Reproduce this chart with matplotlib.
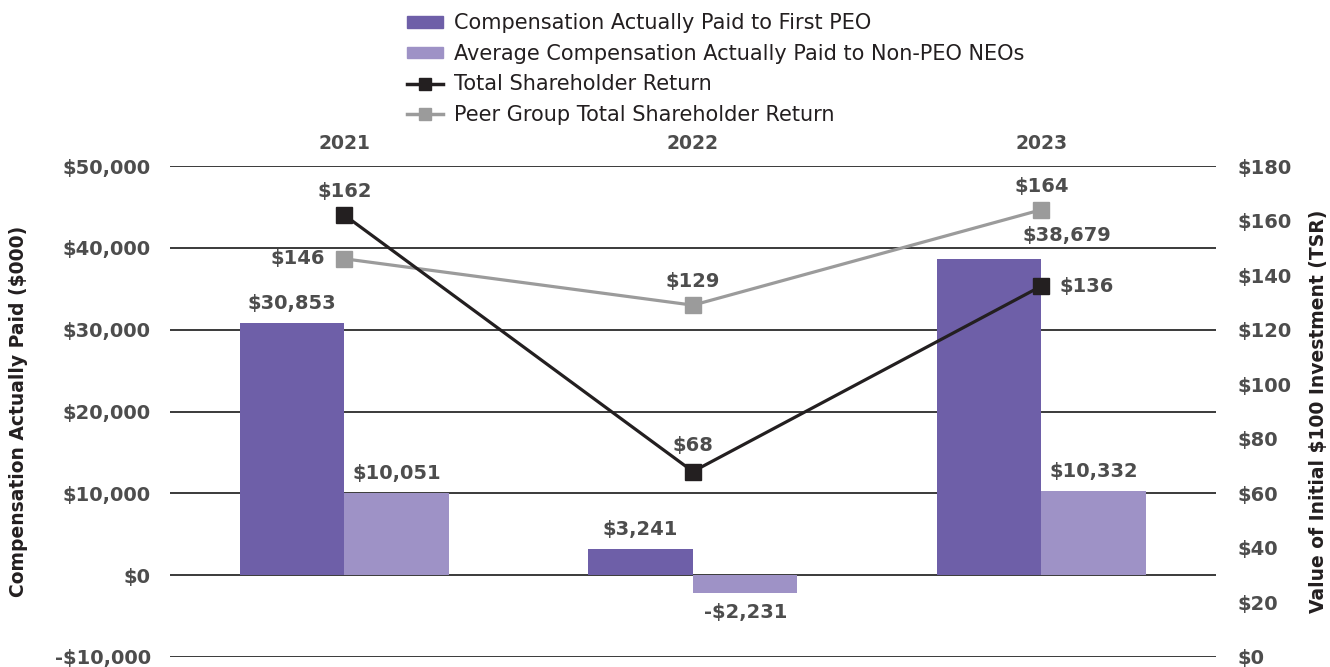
import numpy as np
import matplotlib.pyplot as plt
from matplotlib.lines import Line2D
from matplotlib.patches import Patch

plt.rcParams['font.family'] = ['DejaVu Sans']

years = ['2021', '2022', '2023']
peo_cap = [30853, 3241, 38679]
neo_cap = [10051, -2231, 10332]
tsr = [162, 68, 136]
peer_tsr = [146, 129, 164]

c_peo = '#6E5FA8'
c_neo = '#9E92C6'
c_tsr = '#231F20'
c_peer = '#9B9B9B'
c_txt = '#4D4D4D'

fig = plt.figure(figsize=(13.3, 6.67), dpi=100)
ax = fig.add_axes([0.128, 0.015, 0.786, 0.736])
ax2 = ax.twinx()

x = np.arange(len(years))
w = 0.3
ax.bar(x - w / 2, peo_cap, w, color=c_peo, zorder=3)
ax.bar(x + w / 2, neo_cap, w, color=c_neo, zorder=3)

ax.set_xlim(-0.5, 2.5)
ax.set_ylim(-10000, 50000)
ticks = list(range(-10000, 50001, 10000))
ax.set_yticks(ticks)
ax.set_yticklabels([('-$' if v < 0 else '$') + f'{abs(v):,}' for v in ticks])
ax.grid(axis='y', color='#3A3A3A', linewidth=1.4, zorder=0)
ax.set_xticks([])
for s in ax.spines.values():
    s.set_visible(False)
for s in ax2.spines.values():
    s.set_visible(False)
ax.tick_params(axis='y', length=0, pad=14, labelsize=14, labelcolor=c_txt)
for t in ax.get_yticklabels():
    t.set_fontweight('bold')
ax.set_ylabel('Compensation Actually Paid ($000)', fontsize=13.5, fontweight='bold',
              color=c_tsr, labelpad=19)

# year labels on top
for i, y in enumerate(years):
    ax.text(i, 1.047, y, transform=ax.get_xaxis_transform(), ha='center', va='center',
            fontsize=13.5, fontweight='bold', color=c_txt)

kw = dict(fontsize=14, fontweight='bold', color=c_txt, textcoords='offset points',
          va='center')

# bar labels (the 2023 PEO label sits to the right, under the peer marker)
peo_offsets = [(0, 14), (0, 14), (56, 17)]
for i in range(len(years)):
    ax.annotate(f'${peo_cap[i]:,}', (i - w / 2, peo_cap[i]), xytext=peo_offsets[i],
                ha='center', **kw)
    v = neo_cap[i]
    if v >= 0:
        ax.annotate(f'${v:,}', (i + w / 2, v), xytext=(0, 14), ha='center', **kw)
    else:
        ax.annotate(f'-${abs(v):,}', (i + w / 2, v), xytext=(0, -14), ha='center', **kw)

# TSR lines
ax2.plot(x, peer_tsr, color=c_peer, lw=2.3, marker='s', ms=12, zorder=4)
ax2.plot(x, tsr, color=c_tsr, lw=2.3, marker='s', ms=12, zorder=5)
ax2.set_ylim(0, 180)
ax2.set_yticks(np.arange(0, 181, 20))
ax2.set_yticklabels([f'${v}' for v in range(0, 181, 20)])
ax2.tick_params(axis='y', length=0, pad=16, labelsize=14, labelcolor=c_txt)
for t in ax2.get_yticklabels():
    t.set_fontweight('bold')
ax2.set_ylabel('Value of Initial $100 Investment (TSR)', fontsize=13.5, fontweight='bold',
               color=c_tsr, labelpad=12)

ax2.annotate(f'${tsr[0]}', (0, tsr[0]), xytext=(0, 17), ha='center', **kw)
ax2.annotate(f'${peer_tsr[0]}', (0, peer_tsr[0]), xytext=(-14, 0), ha='right', **kw)
ax2.annotate(f'${tsr[1]}', (1, tsr[1]), xytext=(0, 19), ha='center', **kw)
ax2.annotate(f'${peer_tsr[1]}', (1, peer_tsr[1]), xytext=(0, 17), ha='center', **kw)
ax2.annotate(f'${tsr[2]}', (2, tsr[2]), xytext=(13, 0), ha='left', **kw)
ax2.annotate(f'${peer_tsr[2]}', (2, peer_tsr[2]), xytext=(0, 17), ha='center', **kw)

handles = [
    Patch(color=c_peo),
    Patch(color=c_neo),
    Line2D([], [], color=c_tsr, lw=2.5, marker='s', ms=8),
    Line2D([], [], color=c_peer, lw=2.5, marker='s', ms=8),
]
labels = ['Compensation Actually Paid to First PEO',
          'Average Compensation Actually Paid to Non-PEO NEOs',
          'Total Shareholder Return',
          'Peer Group Total Shareholder Return']
fig.legend(handles, labels, loc='upper left', bbox_to_anchor=(0.306, 0.98), frameon=False,
           prop={'family': 'DejaVu Sans', 'size': 15}, handlelength=1.75, handleheight=0.45,
           labelspacing=0.5, handletextpad=0.5, labelcolor=c_tsr,
           borderaxespad=0, borderpad=0)

fig.savefig('out.png', dpi=100)
